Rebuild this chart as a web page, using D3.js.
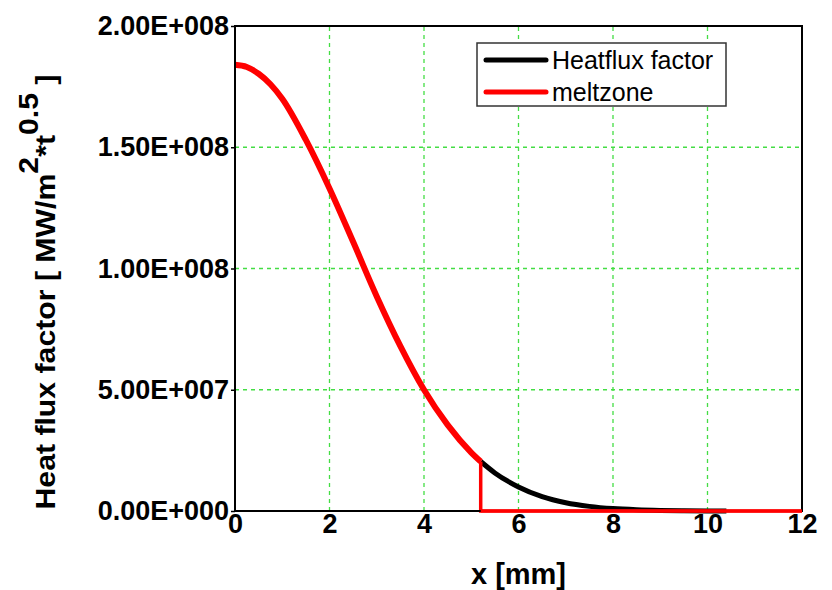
<!DOCTYPE html>
<html>
<head>
<meta charset="utf-8">
<script src="https://cdn.jsdelivr.net/npm/d3@7"></script>
<style>
  body { margin: 0; background: #fff; }
  svg text { font-family: Arial, "Liberation Sans", sans-serif; }
</style>
</head>
<body>
<div id="container"></div>
<script>
// values
const heatX = [5.2, 5.5, 6.0, 6.5, 7.0, 7.5, 8.0, 8.5, 9.0, 9.5, 10.0, 10.4];
const heatY = [2.04e7, 1.57e7, 9.9e6, 5.9e6, 3.4e6, 1.9e6, 1.0e6, 5.2e5, 2.5e5, 1.2e5, 5e4, 2e4];

const meltX = [0, 0.25, 0.5, 0.75, 1.0, 1.5, 2.0, 2.5, 3.0, 3.5, 4.0, 4.5, 5.0, 5.2, 5.2, 12];
const meltY = [1.84e8, 1.831e8, 1.803e8, 1.76e8, 1.70e8, 1.53e8, 1.33e8, 1.11e8, 8.85e7, 6.8e7, 5.0e7, 3.55e7, 2.41e7, 2.04e7, 0, 0];

const xTicks = [0, 2, 4, 6, 8, 10, 12];
const yTicks = [0, 5e7, 1e8, 1.5e8, 2e8];
const yTickLabels = ['0.00E+000', '5.00E+007', '1.00E+008', '1.50E+008', '2.00E+008'];

const legendNames = ['Heatflux factor', 'meltzone'];
const legendColors = ['#000', '#ff0000'];

const width = 832, height = 590;
const margin = {left: 235, top: 26, right: 30, bottom: 79};

const xScale = d3.scaleLinear().domain([0, 12]).range([margin.left, width - margin.right]);
const yScale = d3.scaleLinear().domain([0, 2e8]).range([height - margin.bottom, margin.top]);

const svg = d3.select('#container')
  .append('svg')
  .attr('width', width)
  .attr('height', height);

// grid
const grid = svg.append('g')
  .attr('stroke', '#44dd44')
  .attr('stroke-width', 1.3)
  .attr('stroke-dasharray', '4,4');
grid.selectAll('.vg')
  .data(xTicks.slice(1, -1))
  .enter().append('line')
  .attr('x1', d => xScale(d)).attr('x2', d => xScale(d))
  .attr('y1', yScale(0)).attr('y2', yScale(2e8));
grid.selectAll('.hg')
  .data(yTicks.slice(1, -1))
  .enter().append('line')
  .attr('y1', d => yScale(d)).attr('y2', d => yScale(d))
  .attr('x1', xScale(0)).attr('x2', xScale(12));

const line = d3.line().x(d => xScale(d[0])).y(d => yScale(d[1]));
const smooth = d3.line().curve(d3.curveMonotoneX).x(d => xScale(d[0])).y(d => yScale(d[1]));

// black curve
svg.append('path')
  .datum(heatX.map((x, i) => [x, heatY[i]]))
  .attr('d', smooth)
  .attr('fill', 'none')
  .attr('stroke', '#000')
  .attr('stroke-width', 5);

// red meltzone: curve, then drop, then baseline
const meltPts = meltX.map((x, i) => [x, meltY[i]]);
svg.append('path')
  .datum(meltPts.slice(0, 14))
  .attr('d', smooth)
  .attr('fill', 'none')
  .attr('stroke', '#ff0000')
  .attr('stroke-width', 6);
svg.append('path')
  .datum(meltPts.slice(13))
  .attr('d', line)
  .attr('fill', 'none')
  .attr('stroke', '#ff0000')
  .attr('stroke-width', 3.5);

// frame
svg.append('rect')
  .attr('x', xScale(0)).attr('y', yScale(2e8))
  .attr('width', xScale(12) - xScale(0))
  .attr('height', yScale(0) - yScale(2e8))
  .attr('fill', 'none')
  .attr('stroke', '#000')
  .attr('stroke-width', 2);
// meltzone baseline sits over the frame
svg.append('path')
  .datum(meltPts.slice(14))
  .attr('d', line)
  .attr('fill', 'none')
  .attr('stroke', '#ff0000')
  .attr('stroke-width', 3);

// axes
const xAxis = d3.axisBottom(xScale).tickValues(xTicks).tickSize(0).tickPadding(3);
const yAxis = d3.axisLeft(yScale).tickValues(yTicks).tickSize(4).tickPadding(2)
  .tickFormat((d, i) => yTickLabels[i]);

const gx = svg.append('g')
  .attr('transform', `translate(0, ${yScale(0)})`)
  .call(xAxis);
const gy = svg.append('g')
  .attr('transform', `translate(${xScale(0)}, 0)`)
  .call(yAxis);
[gx, gy].forEach(g => {
  g.select('.domain').remove();
  g.selectAll('text')
    .attr('fill', '#000')
    .style('font-size', '27px')
    .style('font-weight', 'bold');
});
gy.selectAll('line').attr('stroke', '#000').attr('stroke-width', 1.5);

// axis titles
svg.append('text')
  .attr('x', xScale(6)).attr('y', 584)
  .attr('text-anchor', 'middle')
  .style('font-size', '29px')
  .style('font-weight', 'bold')
  .text('x [mm]');

const yt = svg.append('text')
  .attr('transform', `translate(55, 292) rotate(-90) scale(1.08, 1)`)
  .attr('text-anchor', 'middle')
  .style('font-size', '28px')
  .style('font-weight', 'bold');
yt.append('tspan').text('Heat flux factor [ MW/m');
yt.append('tspan').attr('dy', -17).text('2');
yt.append('tspan').attr('dy', 17).text('*t');
yt.append('tspan').attr('dy', -17).text('0.5');
yt.append('tspan').attr('dy', 17).text(' ]');

// legend
const lg = svg.append('g');
lg.append('rect')
  .attr('x', 477).attr('y', 43).attr('width', 249).attr('height', 63)
  .attr('fill', '#fff').attr('stroke', '#333').attr('stroke-width', 1.5);
legendNames.forEach((name, i) => {
  const ly = 60 + i * 32;
  lg.append('line')
    .attr('x1', 486).attr('x2', 546).attr('y1', ly).attr('y2', ly)
    .attr('stroke', legendColors[i]).attr('stroke-width', 5).attr('stroke-linecap', 'round');
  lg.append('text')
    .attr('x', 552).attr('y', ly + 9)
    .style('font-size', '25px')
    .text(name);
});
</script>
</body>
</html>
